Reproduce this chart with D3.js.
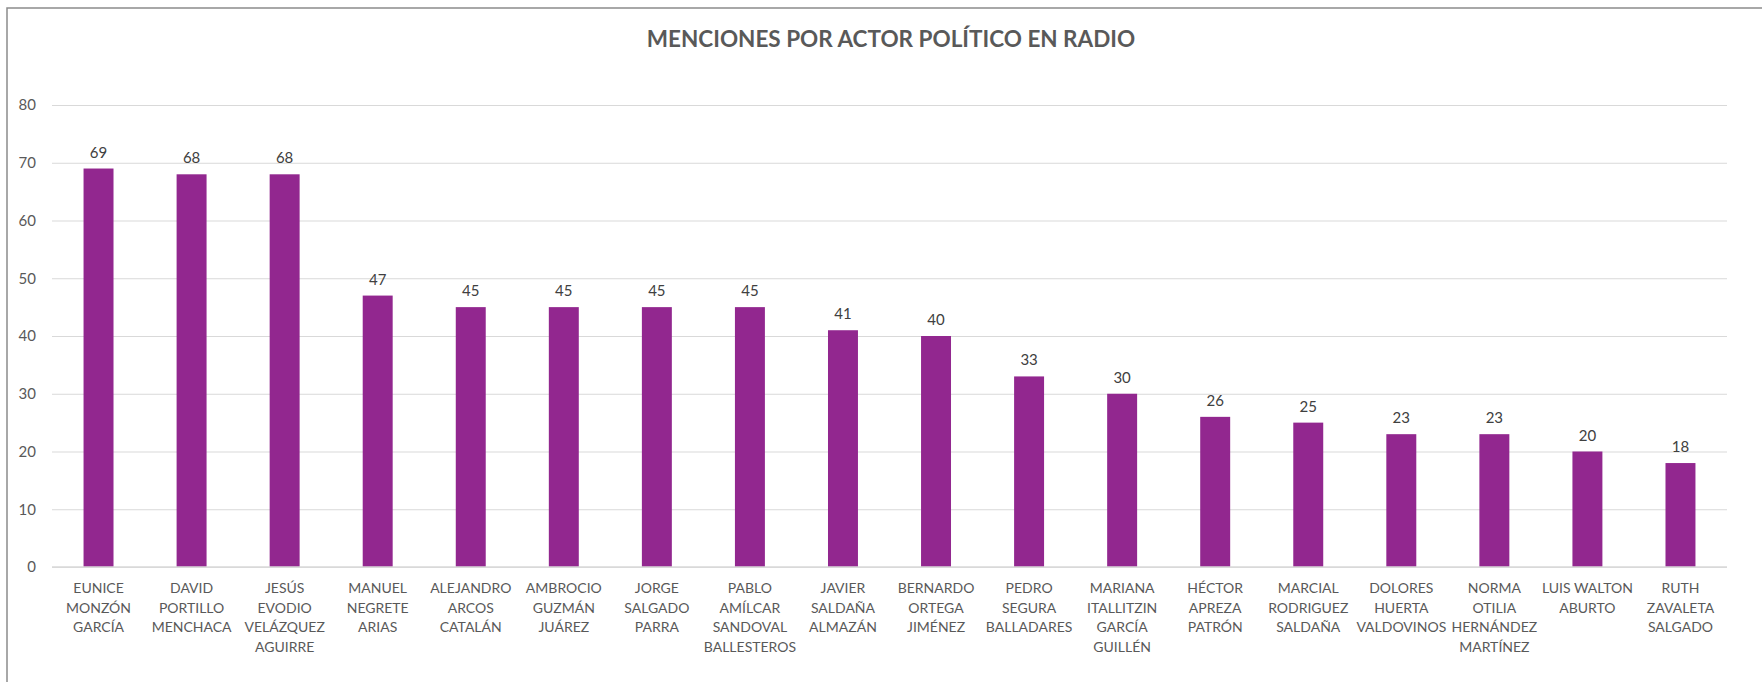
<!DOCTYPE html>
<html><head><meta charset="utf-8">
<script src="https://cdn.jsdelivr.net/npm/d3@7/dist/d3.min.js"></script>
<style>body{margin:0;background:#fff}svg{display:block}</style>
</head><body>
<svg id="chart" width="1762" height="682"></svg>
<script>
const title = "MENCIONES POR ACTOR POLÍTICO EN RADIO";
const categories = [
  "EUNICE\nMONZÓN\nGARCÍA",
  "DAVID\nPORTILLO\nMENCHACA",
  "JESÚS\nEVODIO\nVELÁZQUEZ\nAGUIRRE",
  "MANUEL\nNEGRETE\nARIAS",
  "ALEJANDRO\nARCOS\nCATALÁN",
  "AMBROCIO\nGUZMÁN\nJUÁREZ",
  "JORGE\nSALGADO\nPARRA",
  "PABLO\nAMÍLCAR\nSANDOVAL\nBALLESTEROS",
  "JAVIER\nSALDAÑA\nALMAZÁN",
  "BERNARDO\nORTEGA\nJIMÉNEZ",
  "PEDRO\nSEGURA\nBALLADARES",
  "MARIANA\nITALLITZIN\nGARCÍA\nGUILLÉN",
  "HÉCTOR\nAPREZA\nPATRÓN",
  "MARCIAL\nRODRIGUEZ\nSALDAÑA",
  "DOLORES\nHUERTA\nVALDOVINOS",
  "NORMA\nOTILIA\nHERNÁNDEZ\nMARTÍNEZ",
  "LUIS WALTON\nABURTO",
  "RUTH\nZAVALETA\nSALGADO"
];
const values = [69, 68, 68, 47, 45, 45, 45, 45, 41, 40, 33, 30, 26, 25, 23, 23, 20, 18];
const yTicks = [0, 10, 20, 30, 40, 50, 60, 70, 80];

const svg = d3.select("#chart");
const font = "Lato, 'Open Sans', sans-serif";
const mLeft = 52, mRight = 1727, mTop = 105, mBottom = 567;

// frame (top and left border)
svg.append("path").attr("d", "M7,682V8H1762").attr("fill", "none")
  .attr("stroke", "#8c8c8c").attr("stroke-width", 1.5);

svg.append("text").attr("x", 891).attr("y", 47).attr("text-anchor", "middle")
  .attr("font-family", font).attr("font-weight", "bold").attr("font-size", 22.5)
  .attr("fill", "#595959").text(title);

const x = d3.scaleBand().domain(d3.range(categories.length)).range([mLeft, mRight]).paddingInner(0.678).paddingOuter(0.339);
const y = d3.scaleLinear().domain([0, 80]).range([mBottom, mTop]);

// gridlines
const yAxis = d3.axisLeft(y).tickValues(yTicks).tickSize(-(mRight - mLeft)).tickPadding(16);
const ga = svg.append("g").attr("transform", `translate(${mLeft},0)`).call(yAxis);
ga.select(".domain").remove();
ga.selectAll(".tick line").attr("stroke", "#d9d9d9").attr("stroke-width", 1);
ga.selectAll(".tick text").attr("font-family", font).attr("font-size", 15).attr("fill", "#595959");

// bars
svg.append("g").selectAll("rect").data(values).join("rect")
  .attr("x", (d, i) => x(i)).attr("width", x.bandwidth())
  .attr("y", d => y(d)).attr("height", d => y(0) - y(d))
  .attr("fill", "#92278f");

// baseline
svg.append("line").attr("x1", mLeft).attr("x2", mRight).attr("y1", mBottom).attr("y2", mBottom)
  .attr("stroke", "#d9d9d9").attr("stroke-width", 1.5);

// data labels
svg.append("g").selectAll("text").data(values).join("text")
  .attr("x", (d, i) => x(i) + x.bandwidth() / 2).attr("y", d => y(d) - 11)
  .attr("text-anchor", "middle").attr("font-family", font).attr("font-size", 15)
  .attr("fill", "#404040").text(d => d);

// category labels
const xAxis = d3.axisBottom(x).tickSize(0).tickFormat(i => categories[i]);
const gx = svg.append("g").attr("transform", `translate(0,${mBottom})`).call(xAxis);
gx.select(".domain").remove();
gx.selectAll(".tick text").each(function(i) {
  const t = d3.select(this);
  const lines = categories[i].split("\n");
  t.text(null).attr("y", 0).attr("dy", null)
    .attr("font-family", font).attr("font-size", 14).attr("fill", "#595959");
  lines.forEach((ln, k) => {
    t.append("tspan").attr("x", 0).attr("y", 26 + k * 19.5).text(ln);
  });
});
</script>
</body></html>
